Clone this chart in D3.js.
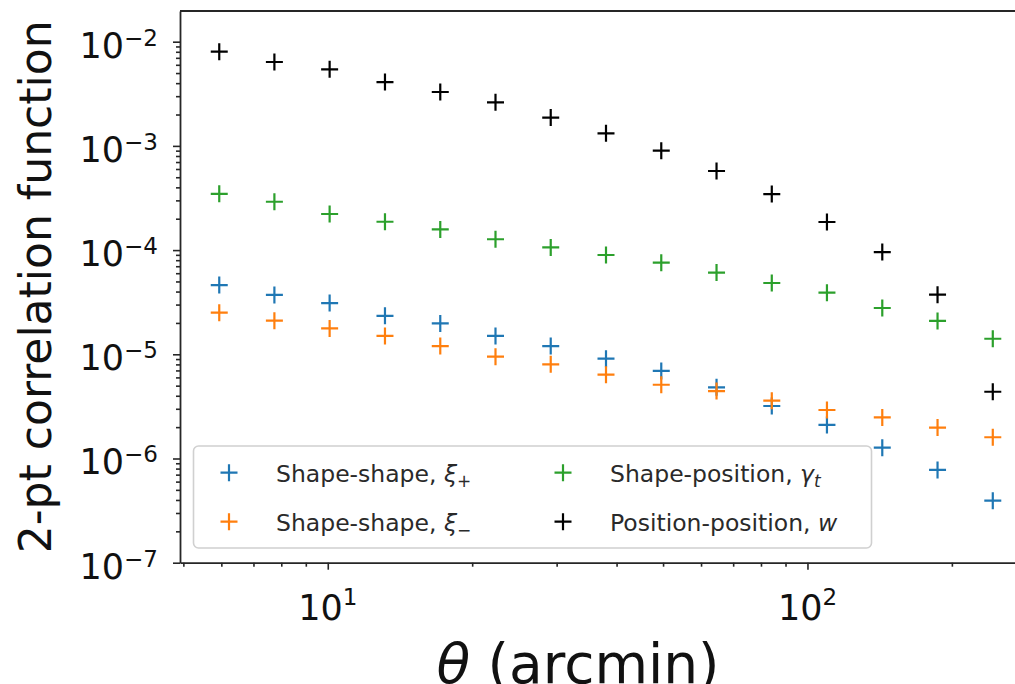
<!DOCTYPE html>
<html><head><meta charset="utf-8">
<script src="https://cdn.jsdelivr.net/npm/d3@7"></script>
<style>body{margin:0;background:#fff}svg{display:block}</style>
</head><body>
<svg id="c" width="1015" height="684"></svg>
<script>
// ---- data ----
const theta   = [5.94, 7.74, 10.09, 13.16, 17.16, 22.37, 29.16, 38.02, 49.57, 64.63, 84.26, 109.8, 143.2, 186.7, 243.4];
const xiPlus  = [4.62e-5, 3.71e-5, 3.10e-5, 2.34e-5, 1.98e-5, 1.50e-5, 1.20e-5, 9.08e-6, 6.92e-6, 4.82e-6, 3.19e-6, 2.10e-6, 1.27e-6, 7.76e-7, 3.94e-7];
const xiMinus = [2.51e-5, 2.10e-5, 1.77e-5, 1.50e-5, 1.20e-5, 9.48e-6, 8.01e-6, 6.37e-6, 5.10e-6, 4.44e-6, 3.59e-6, 2.92e-6, 2.48e-6, 1.98e-6, 1.60e-6];
const gammaT  = [3.47e-4, 2.91e-4, 2.22e-4, 1.87e-4, 1.58e-4, 1.27e-4, 1.06e-4, 8.97e-5, 7.57e-5, 6.09e-5, 4.83e-5, 3.90e-5, 2.78e-5, 2.09e-5, 1.41e-5];
const wTheta  = [8.02e-3, 6.38e-3, 5.43e-3, 4.10e-3, 3.29e-3, 2.62e-3, 1.87e-3, 1.32e-3, 8.99e-4, 5.74e-4, 3.45e-4, 1.86e-4, 9.58e-5, 3.73e-5, 4.37e-6];
const seriesKeys   = ["xiPlus", "xiMinus", "gammaT", "w"];
const seriesColors = ["#1f77b4", "#ff7f0e", "#2ca02c", "#000000"];
const xMajorTicks = [10, 100];
const xTickExp    = ["1", "2"];
const yMajorTicks = [1e-7, 1e-6, 1e-5, 1e-4, 1e-3, 1e-2];
const yTickExp    = ["\u22127", "\u22126", "\u22125", "\u22124", "\u22123", "\u22122"];
const xDomain = [4.92, 291];
const yDomain = [1e-7, 0.0197];

const seriesValues = [xiPlus, xiMinus, gammaT, wTheta];

// ---- layout ----
const svg = d3.select("#c");
const L = 180, R = 1030, T = 11, B = 562.7;
const FONT = "DejaVu Sans, sans-serif";
const x = d3.scaleLog().domain(xDomain).range([L, R]);
const y = d3.scaleLog().domain(yDomain).range([B, T]);

const axisColor = "#262626";

// minor ticks from the scales themselves
const isPow10 = v => Math.abs(Math.log10(v) - Math.round(Math.log10(v))) < 1e-9;
const xMinor = x.ticks().filter(v => !isPow10(v));
const yMinor = y.ticks().filter(v => !isPow10(v));

// x axis
const gx = svg.append("g").attr("transform", `translate(0,${B})`);
gx.call(d3.axisBottom(x).tickValues(xMajorTicks).tickSize(7).tickSizeOuter(0).tickFormat(() => ""));
gx.append("g").call(d3.axisBottom(x).tickValues(xMinor).tickSize(4).tickSizeOuter(0).tickFormat(() => ""))
  .select(".domain").remove();
gx.selectAll("line").attr("stroke", axisColor).attr("stroke-width", 1.6);
gx.select(".domain").attr("stroke", axisColor).attr("stroke-width", 1.8);
gx.selectAll(".tickLabel").data(xMajorTicks).enter().append("text")
  .attr("x", d => x(d)).attr("y", 57.5).attr("text-anchor", "middle")
  .attr("font-family", FONT).attr("font-size", 35).attr("fill", "#111")
  .each(function(d, i) {
    const t = d3.select(this);
    t.append("tspan").text("10");
    t.append("tspan").attr("dy", -15).attr("font-size", 23).text(xTickExp[i]);
  });

// y axis
const gy = svg.append("g").attr("transform", `translate(${L},0)`);
gy.call(d3.axisLeft(y).tickValues(yMajorTicks).tickSize(7).tickSizeOuter(0).tickFormat(() => ""));
gy.append("g").call(d3.axisLeft(y).tickValues(yMinor).tickSize(4).tickSizeOuter(0).tickFormat(() => ""))
  .select(".domain").remove();
gy.selectAll("line").attr("stroke", axisColor).attr("stroke-width", 1.6);
gy.select(".domain").attr("stroke", axisColor).attr("stroke-width", 1.8);
gy.selectAll(".tickLabel").data(yMajorTicks).enter().append("text")
  .attr("x", -22).attr("y", d => y(d) + 16).attr("text-anchor", "end")
  .attr("font-family", FONT).attr("font-size", 35).attr("fill", "#111")
  .each(function(d, i) {
    const t = d3.select(this);
    t.append("tspan").text("10");
    t.append("tspan").attr("dy", -12).attr("font-size", 23).text(yTickExp[i]);
  });

// top and right spines
svg.append("line").attr("x1", L).attr("x2", R).attr("y1", T).attr("y2", T)
  .attr("stroke", axisColor).attr("stroke-width", 1.8);
svg.append("line").attr("x1", R).attr("x2", R).attr("y1", T).attr("y2", B)
  .attr("stroke", axisColor).attr("stroke-width", 1.8);

// markers
const plus = "M-8.5,0H8.5M0,-8.5V8.5";
seriesValues.forEach((vals, si) => {
  svg.append("g").selectAll("path").data(vals).enter().append("path")
    .attr("d", plus)
    .attr("transform", (d, i) => `translate(${x(theta[i])},${y(d)})`)
    .attr("stroke", seriesColors[si]).attr("stroke-width", 2.2).attr("fill", "none");
});

// legend
const lg = svg.append("g");
lg.append("rect").attr("x", 193.5).attr("y", 446).attr("width", 678).attr("height", 102)
  .attr("rx", 5).attr("fill", "#fff").attr("fill-opacity", 0.8)
  .attr("stroke", "#d0d0d0").attr("stroke-width", 1.6);
const legendPos = [[229, 472.7], [229, 521.7], [563, 472.7], [563, 521.7]];
const legendLabel = [
  [["Shape-shape, ", null], ["\u03be", "it"], ["+", "sub"]],
  [["Shape-shape, ", null], ["\u03be", "it"], ["\u2212", "sub"]],
  [["Shape-position, ", null], ["\u03b3", "it"], ["t", "subit"]],
  [["Position-position, ", null], ["w", "it"]]
];
seriesKeys.forEach((k, i) => {
  const [mx, my] = legendPos[i];
  lg.append("path").attr("d", plus).attr("transform", `translate(${mx},${my})`)
    .attr("stroke", seriesColors[i]).attr("stroke-width", 2.2).attr("fill", "none");
  const t = lg.append("text").attr("x", mx + 47).attr("y", my + 9)
    .attr("font-family", FONT).attr("font-size", 23.5).attr("fill", "#2a2a2a");
  legendLabel[i].forEach(([s, st]) => {
    const sp = t.append("tspan").text(s);
    if (st === "it") sp.attr("font-style", "italic");
    if (st === "sub" || st === "subit") {
      sp.attr("font-size", 17).attr("dy", 5);
      if (st === "subit") sp.attr("font-style", "italic");
    }
  });
});

// axis labels
svg.append("text").attr("transform", `translate(51,${(T + B) / 2}) rotate(-90)`)
  .attr("text-anchor", "middle").attr("font-family", FONT).attr("font-size", 44).attr("fill", "#111")
  .text("2-pt correlation function");
const xl = svg.append("text").attr("x", 578).attr("y", 683).attr("text-anchor", "middle")
  .attr("font-family", FONT).attr("font-size", 55).attr("fill", "#111");
xl.append("tspan").attr("font-style", "italic").text("\u03b8");
xl.append("tspan").text(" (arcmin)");
</script>
</body></html>
